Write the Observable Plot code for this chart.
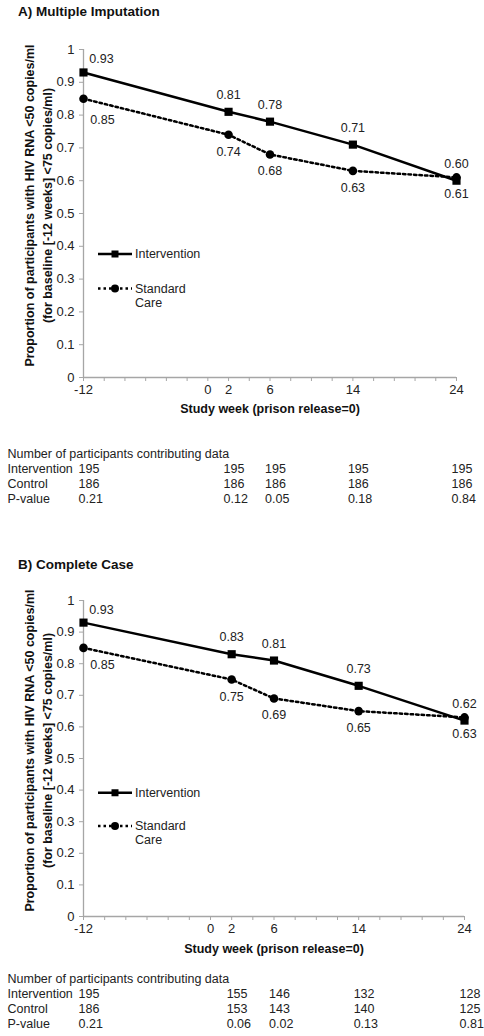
<!DOCTYPE html>
<html><head><meta charset="utf-8">
<script src="https://cdn.jsdelivr.net/npm/d3@7"></script>
<script src="https://cdn.jsdelivr.net/npm/@observablehq/plot@0.6"></script>
<style>
body{margin:0;background:#fff;font-family:"Liberation Sans",Arial,sans-serif;width:484px;}
.title{font-weight:bold;font-size:13.5px;color:#111;padding-left:18px;line-height:24px;}
svg{display:block}
</style></head><body>
<div class="title" style="height:30px;">A) Multiple Imputation</div>
<div id="a"></div>
<div class="title" style="padding-top:48px;height:35px;">B) Complete Case</div>
<div id="b"></div>
<script>
// ---- data ----
const weeks = [-12, 2, 6, 14, 24];
const interventionA = [0.93, 0.81, 0.78, 0.71, 0.60];
const standardCareA = [0.85, 0.74, 0.68, 0.63, 0.61];
const interventionB = [0.93, 0.83, 0.81, 0.73, 0.62];
const standardCareB = [0.85, 0.75, 0.69, 0.65, 0.63];
const nInterventionA = [195, 195, 195, 195, 195];
const nControlA = [186, 186, 186, 186, 186];
const pValueA = ["0.21", "0.12", "0.05", "0.18", "0.84"];
const nInterventionB = [195, 155, 146, 132, 128];
const nControlB = [186, 153, 143, 140, 125];
const pValueB = ["0.21", "0.06", "0.02", "0.13", "0.81"];
const xTicks = [-12, -10, -8, -6, -4, -2, 0, 2, 4, 6, 8, 10, 12, 14, 16, 18, 20, 22, 24];
const xTickLabels = [-12, 0, 2, 6, 14, 24];
const yTicks = [0, 0.1, 0.2, 0.3, 0.4, 0.5, 0.6, 0.7, 0.8, 0.9, 1];
const seriesNames = ["Intervention", "Standard\nCare"];
const tableHeader = "Number of participants contributing data";
const rowLabels = ["Intervention", "Control", "P-value"];
const yLabel = "Proportion of participants with HIV RNA <50 copies/ml\n(for baseline [-12 weeks] <75 copies/ml)";
const xLabel = "Study week (prison release=0)";

const FONT = "Liberation Sans, Arial, sans-serif";
const GRAY = "#a6a6a6";

function panel(sel, cfg) {
  const rows = weeks.map((w, i) => ({week: w, int: cfg.int[i], ctl: cfg.ctl[i], nInt: cfg.nInt[i], nCtl: cfg.nCtl[i], p: cfg.p[i]}));
  const first = d => d.week === weeks[0];
  const rest = d => d.week !== weeks[0];
  const fs = 12.5;
  const tableText = [
    [rows.map(() => ""), tableHeader, 0],
    [rows.map(d => String(d.nInt)), rowLabels[0], 1],
    [rows.map(d => String(d.nCtl)), rowLabels[1], 2],
    [rows.map(d => d.p), rowLabels[2], 3]
  ];
  const tableMarks = [];
  for (const [vals, lab, j] of tableText) {
    const dy = cfg.tableTop + j * cfg.rowGap;
    tableMarks.push(Plot.text([lab], {frameAnchor: "bottom-left", text: d => d, dx: -76, dy, textAnchor: "start", lineAnchor: "middle", fontSize: fs, fill: "#222"}));
    if (j > 0) tableMarks.push(Plot.text(rows, {x: "week", frameAnchor: "bottom", text: (d, i) => vals[i], dx: -5, dy, textAnchor: "start", lineAnchor: "middle", fontSize: fs, fill: "#222"}));
  }
  const legend = (index, scales, values, dims) => {
    const g = d3.create("svg:g").attr("font-family", FONT).attr("font-size", fs).attr("fill", "#222").attr("text-anchor", "start");
    const x0 = dims.marginLeft;
    const yl = d3.scaleLinear([0, 1], [dims.height - dims.marginBottom, dims.marginTop]);
    const y1 = yl(cfg.legY[0]), y2 = yl(cfg.legY[1]);
    g.append("line").attr("x1", x0 + 15).attr("x2", x0 + 49).attr("y1", y1).attr("y2", y1).attr("stroke", "#000").attr("stroke-width", 2.5);
    g.append("rect").attr("x", x0 + 28.5).attr("y", y1 - 3.5).attr("width", 7).attr("height", 7).attr("fill", "#000");
    g.append("text").attr("x", x0 + 52).attr("y", y1).attr("dy", "0.35em").text(seriesNames[0]);
    g.append("line").attr("x1", x0 + 15).attr("x2", x0 + 49).attr("y1", y2).attr("y2", y2).attr("stroke", "#000").attr("stroke-width", 2.5).attr("stroke-dasharray", "2.5,3");
    g.append("circle").attr("cx", x0 + 32).attr("cy", y2).attr("r", 4).attr("fill", "#000");
    const [l1, l2] = seriesNames[1].split("\n");
    g.append("text").attr("x", x0 + 52).attr("y", y2).attr("dy", "0.35em").text(l1);
    g.append("text").attr("x", x0 + 52).attr("y", y2 + 14).attr("dy", "0.35em").text(l2);
    return g.node();
  };
  const chart = Plot.plot({
    width: 484,
    height: cfg.height,
    marginTop: cfg.marginTop,
    marginBottom: cfg.marginBottom,
    marginLeft: 83,
    marginRight: cfg.marginRight,
    style: {fontFamily: FONT, fontSize: "13px", color: "#222", background: "#fff", overflow: "visible"},
    x: {domain: d3.extent(weeks)},
    y: {domain: [0, 1]},
    marks: [
      Plot.ruleY([0], {stroke: GRAY, strokeWidth: 1.3}),
      Plot.ruleX([d3.min(weeks)], {stroke: GRAY, strokeWidth: 1.3}),
      Plot.axisY({ticks: yTicks, tickFormat: d => String(+d.toFixed(1)), tickSize: 4, tickPadding: 5, stroke: GRAY, fill: "#222", fontSize: 13, label: null}),
      Plot.axisX({ticks: xTicks, tickFormat: d => xTickLabels.includes(d) ? String(d) : "", tickSize: 4, tickPadding: 3, stroke: GRAY, fill: "#222", fontSize: 13, label: null}),
      Plot.text([yLabel], {frameAnchor: "left", text: d => d, rotate: -90, dx: -46, dy: cfg.yLabelDy, textAnchor: "middle", lineAnchor: "middle", lineHeight: 1.4, fontWeight: "bold", fontSize: 12.5, fill: "#111"}),
      Plot.text([xLabel], {frameAnchor: "bottom", text: d => d, dy: cfg.xLabelDy, lineAnchor: "middle", fontWeight: "bold", fontSize: 12.5, fill: "#111"}),
      Plot.line(rows, {x: "week", y: "ctl", stroke: "#000", strokeWidth: 2.5, strokeDasharray: "2.5,3"}),
      Plot.line(rows, {x: "week", y: "int", stroke: "#000", strokeWidth: 2.5}),
      Plot.dot(rows, {x: "week", y: "ctl", symbol: "circle", r: 4.3, fill: "#000", stroke: "none"}),
      Plot.dot(rows, {x: "week", y: "int", symbol: "square", r: 4.6, fill: "#000", stroke: "none"}),
      Plot.text(rows, {filter: rest, x: "week", y: "int", text: d => d.int.toFixed(2), dy: -17, fontSize: fs, fill: "#222"}),
      Plot.text(rows, {filter: rest, x: "week", y: "ctl", text: d => d.ctl.toFixed(2), dy: 17, fontSize: fs, fill: "#222"}),
      Plot.text(rows, {filter: first, x: "week", y: "int", text: d => d.int.toFixed(2), dx: 18, dy: -13, fontSize: fs, fill: "#222"}),
      Plot.text(rows, {filter: first, x: "week", y: "ctl", text: d => d.ctl.toFixed(2), dx: 19, dy: cfg.firstCtlDy, fontSize: fs, fill: "#222"}),
      legend,
      ...tableMarks
    ]
  });
  document.querySelector(sel).append(chart);
}

panel("#a", {int: interventionA, ctl: standardCareA, nInt: nInterventionA, nCtl: nControlA, p: pValueA,
  height: 475, marginTop: 19, marginBottom: 128, marginRight: 28, tableTop: 76, rowGap: 15.3, xLabelDy: 31, yLabelDy: -8,
  firstCtlDy: 21, legY: [0.375, 0.27]});
panel("#b", {int: interventionB, ctl: standardCareB, nInt: nInterventionB, nCtl: nControlB, p: pValueB,
  height: 448, marginTop: 12, marginBottom: 120, marginRight: 20, tableTop: 62, rowGap: 15.3, xLabelDy: 32, yLabelDy: -8,
  firstCtlDy: 17, legY: [0.39, 0.285]});
</script>
</body></html>
